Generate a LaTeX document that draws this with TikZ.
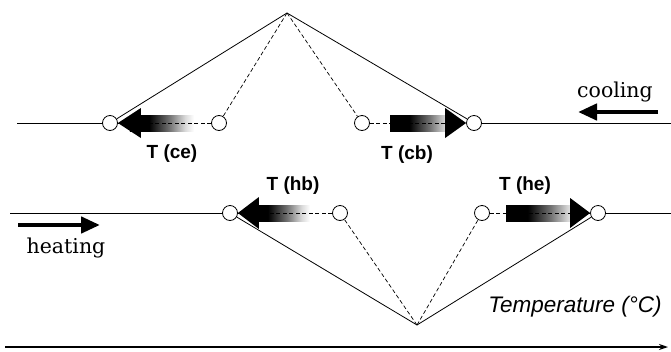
\documentclass[tikz,border=0pt]{standalone}
\usepackage{fontspec}
\setsansfont{Liberation Sans}
\newfontfamily\wordfont{DejaVu Serif}
\usepackage{tikz}
\usetikzlibrary{arrows.meta,calc}
\pgfdeclarehorizontalshading{fadeout}{100bp}{color(0bp)=(black); color(25bp)=(black); color(40bp)=(black); color(56bp)=(black!55); color(68bp)=(black!15); color(75bp)=(white); color(100bp)=(white)}
\tikzset{
  dot/.style={circle, draw, fill=white, line width=0.8pt, inner sep=0pt, minimum size=15pt},
  tlab/.style={font=\sffamily\bfseries\fontsize{19}{21}\selectfont},
  wordlab/.style={font=\wordfont\fontsize{20.5}{24}\selectfont},
  thin line/.style={line width=0.8pt},
  dash line/.style={line width=0.7pt, dash pattern=on 4pt off 2.5pt},
  fat arrow/.style={line width=4.5pt, -{Triangle[length=19pt,width=16pt]}}
}

\begin{document}
\begin{tikzpicture}[x=1pt, y=-1pt]
    \useasboundingbox (0,0) rectangle (671,351);

    % Cooling branch (top)
    \coordinate (top) at (287,13);
    \coordinate (cL) at (17,123);
    \coordinate (cR) at (671,123);
    \node[dot] (ce1) at (110,123) {};
    \node[dot] (ce0) at (219,123) {};
    \node[dot] (cb0) at (362,123) {};
    \node[dot] (cb1) at (474,123) {};

    \begin{scope}[shift={(ce1.east)}]
        \shade[shading=fadeout] (12,-8) rectangle (76,8);
        \fill (0,0) -- (23,-15) -- (23,15) -- cycle;
    \end{scope}
    \begin{scope}[shift={(cb1.west)}, xscale=-1]
        \shade[shading=fadeout] (12,-8) rectangle (76,8);
        \fill (0,0) -- (21,-15) -- (21,15) -- cycle;
    \end{scope}

    \draw[thin line] (cL) -- (ce1);
    \draw[thin line] (cb1) -- (cR);
    \draw[thin line] (top) -- (ce1);
    \draw[thin line] (top) -- (cb1);
    \draw[dash line] (top) -- (ce0);
    \draw[dash line] (top) -- (cb0);
    \draw[dash line] (ce0) -- (ce1);
    \draw[dash line] (cb0) -- (cb1);

    \node[tlab] (lce) at (172,154) {T (ce)};
    \node[tlab] (lcb) at (407,155) {T (cb)};

    % Heating branch (bottom)
    \coordinate (bot) at (417,325);
    \coordinate (hL) at (10,213);
    \coordinate (hR) at (671,213);
    \node[dot] (hb1) at (230,213) {};
    \node[dot] (hb0) at (340,213) {};
    \node[dot] (he0) at (482,213) {};
    \node[dot] (he1) at (598,213) {};

    \begin{scope}[shift={(hb1.east)}]
        \shade[shading=fadeout] (12,-8) rectangle (72,8);
        \fill (0,0) -- (21,-16) -- (21,16) -- cycle;
    \end{scope}
    \begin{scope}[shift={(he1.west)}, xscale=-1]
        \shade[shading=fadeout] (12,-8) rectangle (84,8);
        \fill (0,0) -- (20,-15) -- (20,15) -- cycle;
    \end{scope}

    \draw[thin line] (hL) -- (hb1);
    \draw[thin line] (he1) -- (hR);
    \draw[thin line] (bot) -- (hb1);
    \draw[thin line] (bot) -- (he1);
    \draw[dash line] (bot) -- (hb0);
    \draw[dash line] (bot) -- (he0);
    \draw[dash line] (hb0) -- (hb1);
    \draw[dash line] (he0) -- (he1);

    \node[tlab] (lhb) at (293,186) {T (hb)};
    \node[tlab] (lhe) at (525,186) {T (he)};

    % Direction arrows
    \node[wordlab] (cool) at (615,92) {cooling};
    \coordinate (coolA) at (658,112);
    \coordinate (coolB) at (578,112);
    \draw[fat arrow] (coolA) -- (coolB);

    \node[wordlab] (heat) at (66,248) {heating};
    \coordinate (heatA) at (18,225);
    \coordinate (heatB) at (100,225);
    \draw[fat arrow] (heatA) -- (heatB);

    % Temperature axis
    \node[font=\sffamily\itshape\fontsize{22.5}{25}\selectfont] (temp) at (575,307) {Temperature (\textdegree C)};
    \coordinate (axL) at (5,347);
    \coordinate (axR) at (668,347);
    \draw[line width=1.6pt, -{Stealth[length=9pt,width=6pt]}] (axL) -- (axR);
\end{tikzpicture}
\end{document}
